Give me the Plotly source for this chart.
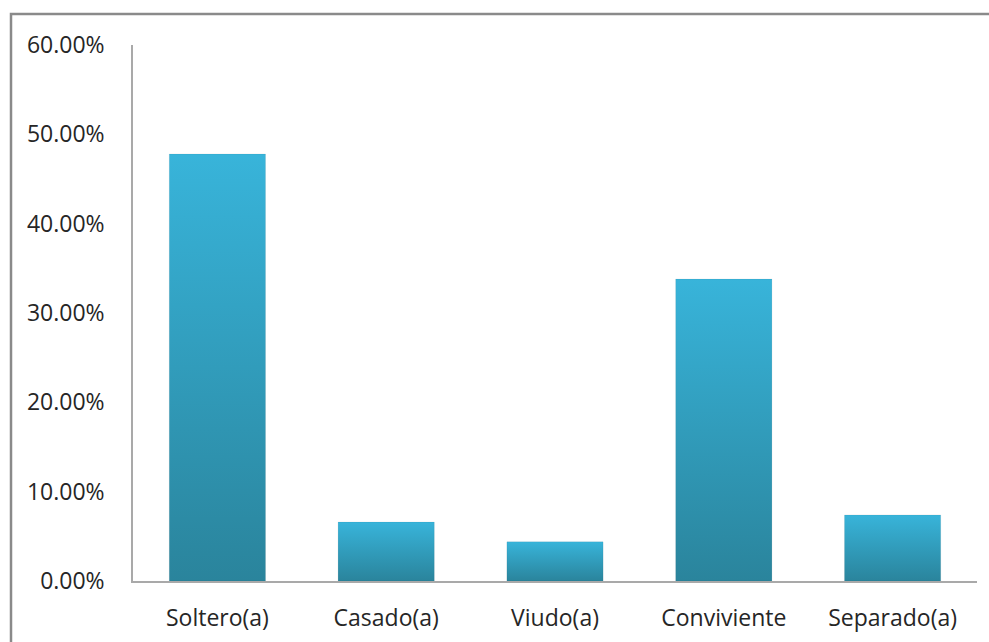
import plotly.graph_objects as go

# Marital status distribution
categories = ["Soltero(a)", "Casado(a)", "Viudo(a)", "Conviviente", "Separado(a)"]
shares = [0.478, 0.066, 0.044, 0.338, 0.074]
y_ticks = [0.0, 0.1, 0.2, 0.3, 0.4, 0.5, 0.6]

BAR_HALF = 0.285
TOP_COLOR = "#38B4DA"
BOTTOM_COLOR = "#2A849C"
TEXT_COLOR = "#262626"
FONT = "Open Sans"

fig = go.Figure()

for i, (cat, val) in enumerate(zip(categories, shares)):
    xs = [i - BAR_HALF, i - BAR_HALF, i + BAR_HALF, i + BAR_HALF, i - BAR_HALF]
    ys = [0, val, val, 0, 0]
    fig.add_trace(go.Scatter(
        x=xs, y=ys,
        mode="lines",
        line=dict(width=1, color="rgba(0,0,0,0.06)"),
        fill="toself",
        fillgradient=dict(
            type="vertical",
            colorscale=[[0, BOTTOM_COLOR], [1, TOP_COLOR]],
        ),
        name=cat,
        hoveron="fills",
        text=f"{cat}: {val:.2%}",
        hoverinfo="text",
        showlegend=False,
    ))

fig.update_layout(
    width=989, height=642,
    margin=dict(l=133, r=12, t=45, b=61, autoexpand=False),
    paper_bgcolor="white",
    plot_bgcolor="white",
    font=dict(family=FONT, size=23, color=TEXT_COLOR),
    xaxis=dict(
        range=[-0.5, len(categories) - 0.5],
        tickmode="array",
        tickvals=list(range(len(categories))),
        ticktext=categories,
        showgrid=False,
        zeroline=False,
        showline=True,
        linecolor="#A9A9A9",
        linewidth=1.5,
        ticks="",
        ticklabelstandoff=16,
        automargin=False,
        fixedrange=True,
    ),
    yaxis=dict(
        range=[0, 0.6],
        tickmode="array",
        tickvals=y_ticks,
        ticktext=[f"{t * 100:.2f}%" for t in y_ticks],
        showgrid=False,
        zeroline=False,
        showline=True,
        linecolor="#A9A9A9",
        linewidth=1.5,
        ticks="",
        ticklabelstandoff=22,
        automargin=False,
        fixedrange=True,
    ),
    shapes=[
        dict(
            type="rect", xref="paper", yref="paper",
            x0=-122 / 844, x1=1.2, y0=-0.5, y1=1 + 31 / 536,
            line=dict(color="#8A8A8A", width=2.5),
            fillcolor="rgba(0,0,0,0)",
            layer="below",
        )
    ],
)

fig.write_html("out.html")
